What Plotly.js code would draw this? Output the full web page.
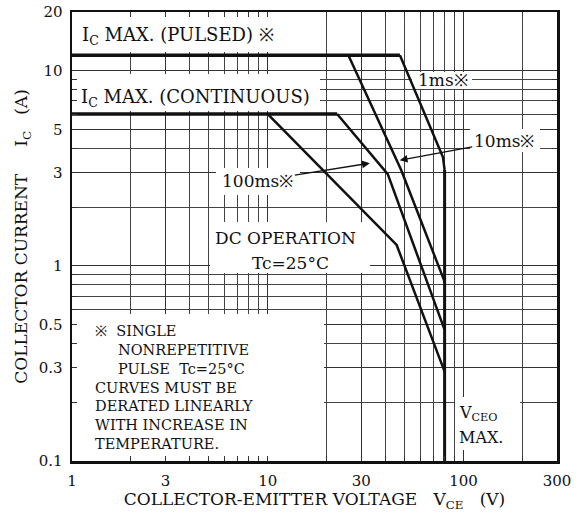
<!DOCTYPE html>
<html>
<head>
<meta charset="utf-8">
<script src="https://cdn.plot.ly/plotly-3.0.1.min.js"></script>
<style>html,body{margin:0;padding:0;background:#fff;}</style>
</head>
<body>
<div id="chart" style="width:584px;height:513px;"></div>
<script>
// ---- axis ticks ----
const vceTickVals = [1, 3, 10, 30, 100, 300];
const vceTickText = ['1', '3', '10', '30', '100', '300'];
const vceMinorVals = [2, 4, 5, 6, 7, 8, 9, 20, 40, 50, 60, 70, 80, 90, 200];
const icTickVals = [0.1, 0.3, 0.5, 1, 3, 5, 10, 20];
const icTickText = ['0.1', '0.3', '0.5', '1', '3', '5', '10', '20'];
const icMinorVals = [0.2, 0.4, 0.6, 0.7, 0.8, 0.9, 2, 4, 6, 7, 8, 9];

// ---- SOA boundaries (V_CE in volts, I_C in amperes) ----
const pulsedMaxV = [1, 47.3];
const pulsedMaxI = [12, 12];
const contMaxV = [1, 22.6];
const contMaxI = [6, 6];
const ms1V = [47.3, 78.5, 80];
const ms1I = [12, 3.6, 3.1];
const ms10V = [25.8, 48, 80];
const ms10I = [12, 3.1, 0.83];
const ms100V = [22.6, 41, 80];
const ms100I = [6, 2.95, 0.47];
const dcV = [10, 45.5, 80];
const dcI = [6, 1.28, 0.287];
const vceoV = [80, 80];
const vceoI = [3.1, 0.1];

// arrow targets on curves
const arrow10msV = 47.2, arrow10msI = 3.48;
const arrow100msV = 33.2, arrow100msI = 3.36;

// note text lines
const noteLines = [
  '※\u00a0\u00a0SINGLE',
  '\u00a0\u00a0\u00a0\u00a0\u00a0NONREPETITIVE',
  '\u00a0\u00a0\u00a0\u00a0\u00a0PULSE\u00a0\u00a0Tc=25°C',
  'CURVES MUST BE',
  'DERATED LINEARLY',
  'WITH INCREASE IN',
  'TEMPERATURE.'
];

const SERIF = 'DejaVu Serif, serif';
const INK = '#111';

// layout geometry (pixels of plot frame)
const L = 72, R = 557, T = 12, B = 461;
const LX = Math.log10(300), LY0 = -1, LY1 = Math.log10(20);
function pxToV(px) { return Math.pow(10, (px - L) / (R - L) * LX); }
function pyToI(py) { return Math.pow(10, LY1 - (py - T) / (B - T) * (LY1 - LY0)); }
function PX(px) { return (px - L) / (R - L); }
function PY(py) { return (B - py) / (B - T); }

// white label backgrounds that interrupt the grid (drawn under the curves)
function blank(x0, y0, x1, y1) {
  const a = pxToV(x0), b = pxToV(x1), c = pyToI(y1), d = pyToI(y0);
  return {x: [a, b, b, a, a], y: [c, c, d, d, c], type: 'scatter', mode: 'none',
          fill: 'toself', fillcolor: '#fff', hoverinfo: 'skip', showlegend: false};
}
const blanks = [
  blank(73, 13, 305, 52),
  blank(73, 74, 320, 111),
  blank(412, 72, 472, 89),
  blank(470, 129, 540, 152),
  blank(216, 168, 300, 195),
  blank(210, 222, 370, 273),
  blank(73, 314, 324, 460),
  blank(455, 397, 520, 450)
];

function line(x, y, w, name) {
  return {x: x, y: y, type: 'scatter', mode: 'lines', name: name,
          line: {color: INK, width: w}, hoverinfo: 'skip', showlegend: false};
}
const traces = blanks.concat([
  line(pulsedMaxV, pulsedMaxI, 3.5, 'IC max pulsed'),
  line(contMaxV, contMaxI, 3.5, 'IC max continuous'),
  line(ms1V, ms1I, 2.5, '1ms'),
  line(ms10V, ms10I, 2.5, '10ms'),
  line(ms100V, ms100I, 2.5, '100ms'),
  line(dcV, dcI, 2.5, 'DC'),
  line(vceoV, vceoI, 3, 'VCEO max')
]);

function lab(text, px, py, anchor, size) {
  return {text: text, xref: 'paper', yref: 'paper', x: PX(px), y: PY(py),
          xanchor: anchor || 'left', yanchor: 'middle', showarrow: false, align: 'left',
          font: {family: SERIF, size: size || 17, color: INK}};
}
const annotations = [
  lab('I<sub>C</sub> MAX. (PULSED) ※', 80, 36, 'left', 18),
  lab('I<sub>C</sub> MAX. (CONTINUOUS)', 79, 98, 'left', 18),
  lab('1ms※', 416, 80),
  lab('DC OPERATION', 213, 238),
  lab('Tc=25°C', 250, 263),
  lab(noteLines.join('<br>'), 93, 387, 'left', 14.5),
  lab('V<sub>CEO</sub>', 457, 413, 'left', 16),
  lab('MAX.', 457, 437, 'left', 16),
  {text: '10ms※', xref: 'x', yref: 'y', x: Math.log10(arrow10msV), y: Math.log10(arrow10msI),
   ax: 104, ay: -19, axref: 'pixel', ayref: 'pixel', showarrow: true,
   arrowhead: 2, arrowsize: 1.2, arrowwidth: 1.3, arrowcolor: INK, standoff: 0,
   font: {family: SERIF, size: 17, color: INK}},
  {text: '100ms※', xref: 'x', yref: 'y', x: Math.log10(arrow100msV), y: Math.log10(arrow100msI),
   ax: -112, ay: 18, axref: 'pixel', ayref: 'pixel', showarrow: true,
   arrowhead: 2, arrowsize: 1.2, arrowwidth: 1.3, arrowcolor: INK, standoff: 0,
   font: {family: SERIF, size: 17, color: INK}}
];

const minorCommon = {
  tickmode: 'array', showgrid: true, gridcolor: '#444', gridwidth: 1,
  ticks: 'inside', ticklen: 5, tickcolor: '#333', tickwidth: 1
};
const axisCommon = {
  type: 'log', showgrid: true, gridcolor: '#333', gridwidth: 1, zeroline: false,
  showline: true, linecolor: INK, linewidth: 2.5, mirror: 'ticks',
  ticks: 'inside', ticklen: 5, tickcolor: '#333', tickwidth: 1,
  tickfont: {family: SERIF, size: 15, color: '#111'},
  fixedrange: true
};

const layout = {
  width: 584, height: 513,
  margin: {l: L, r: 584 - R, t: T, b: 513 - B, pad: 0},
  paper_bgcolor: '#fff', plot_bgcolor: '#fff',
  font: {family: SERIF, color: INK},
  xaxis: Object.assign({}, axisCommon, {
    range: [0, LX], tickmode: 'array', tickvals: vceTickVals, ticktext: vceTickText,
    minor: Object.assign({tickvals: vceMinorVals}, minorCommon),
    ticklabelstandoff: 4,
    title: {text: 'COLLECTOR-EMITTER VOLTAGE\u00a0\u00a0\u00a0V<sub>CE</sub>\u00a0\u00a0\u00a0(V)',
            font: {family: SERIF, size: 17, color: '#111'}, standoff: 3}
  }),
  yaxis: Object.assign({}, axisCommon, {
    range: [LY0, LY1], tickmode: 'array', tickvals: icTickVals, ticktext: icTickText,
    minor: Object.assign({tickvals: icMinorVals}, minorCommon),
    ticklabelstandoff: 4,
    title: {text: 'COLLECTOR CURRENT\u00a0\u00a0\u00a0\u00a0\u00a0I<sub>C</sub>\u00a0\u00a0\u00a0(A)',
            font: {family: SERIF, size: 17, color: '#111'}, standoff: 7}
  }),
  annotations: annotations,
  showlegend: false
};

Plotly.newPlot('chart', traces, layout, {displayModeBar: false, staticPlot: true});
</script>
</body>
</html>
